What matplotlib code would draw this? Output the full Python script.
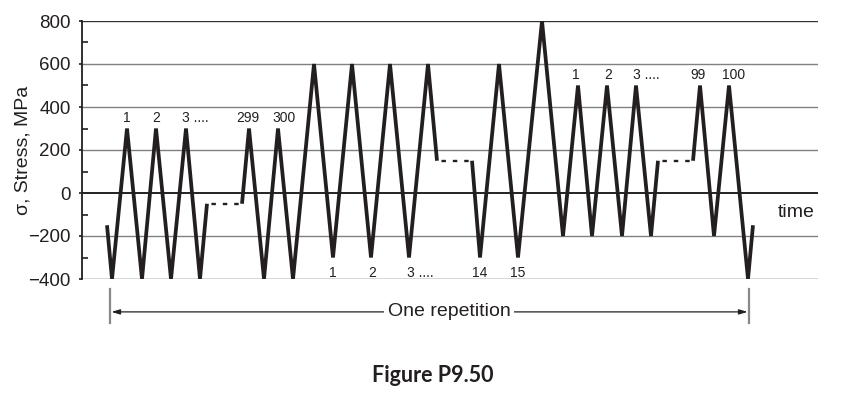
import numpy as np
import matplotlib
matplotlib.use("Agg")
import matplotlib.pyplot as plt

plt.rcParams['font.family'] = ['Liberation Sans', 'DejaVu Sans']
plt.rcParams['lines.scale_dashes'] = False

# stress history (time in arbitrary units, stress in MPa)
# solid runs of the loading history
t_runs = [
    [25, 30, 45, 60, 74, 89, 104, 118, 125],
    [160, 167, 182, 196, 211, 232, 251, 270, 289, 308, 327, 346, 355],
    [390, 398, 417, 436, 460, 481, 496, 510, 525, 540, 554, 569, 576],
    [611, 618, 632, 647, 666, 671],
]
s_runs = [
    [-150, -400, 300, -400, 300, -400, 300, -400, -50],
    [-50, 300, -400, 300, -400, 600, -300, 600, -300, 600, -300, 600, 150],
    [150, -300, 600, -300, 800, -200, 500, -200, 500, -200, 500, -200, 150],
    [150, 500, -200, 500, -400, -150],
]
# omitted cycles (dashed gaps)
gap_t = [(125, 160), (355, 390), (576, 611)]
gap_s = [-50, 150, 150]

# cycle-count labels: text, time, stress of the peak/valley, above(+1)/below(-1)
cycle_labels = [
    ("1", 45, 300, 1), ("2", 74, 300, 1), ("3 ....", 104, 300, 1),
    ("299", 166, 300, 1), ("300", 202, 300, 1),
    ("1", 251, -300, -1), ("2", 290, -300, -1), ("3 ....", 329, -300, -1),
    ("14", 398, -300, -1), ("15", 436, -300, -1),
    ("1", 494, 500, 1), ("2", 526, 500, 1), ("3 ....", 555, 500, 1),
    ("99", 616, 500, 1), ("100", 652, 500, 1),
]

rep_start, rep_end = 28, 667
y_ticks = [-400, -200, 0, 200, 400, 600, 800]

fig = plt.figure(figsize=(8.43, 4.03), dpi=100)
ax = fig.add_axes([82/843, 124/403, 736/843, 258/403])
ax.set_xlim(0, 736)
ax.set_ylim(-400, 800)

# horizontal reference lines
for y in y_ticks:
    if y == 0:
        ax.axhline(y, color='#111111', lw=1.3, zorder=1)
    elif y in (800, -400):
        ax.axhline(y, color='#333333', lw=1.0, zorder=1)
    else:
        ax.axhline(y, color='#808080', lw=1.0, zorder=1)

wave = '#231f20'
for t, s in zip(t_runs, s_runs):
    ax.plot(t, s, color=wave, lw=2.7, solid_joinstyle='miter',
            solid_capstyle='butt', zorder=3)
for (t0, t1), s in zip(gap_t, gap_s):
    ax.plot([t0, t1], [s, s], color=wave, lw=1.7, linestyle=(5, (3.2, 5)),
            dash_capstyle='butt', zorder=3)

for text, t, s, side in cycle_labels:
    dots = text.endswith('....')
    ax.annotate(text, (t, s), xytext=(-2.8 if dots else 0, 7.5 if side > 0 else -11),
                textcoords='offset points', ha='left' if dots else 'center',
                va='center', fontsize=10, color=wave)

ax.text(714, -93, 'time', ha='center', va='center', fontsize=14, color=wave)

# axis styling
for side in ('top', 'right', 'bottom'):
    ax.spines[side].set_visible(False)
ax.spines['left'].set_color(wave)
ax.spines['left'].set_linewidth(1.3)
ax.set_xticks([])
ax.set_yticks(y_ticks)
ax.set_yticks(np.arange(-300, 800, 200), minor=True)
ax.tick_params(axis='y', which='major', direction='out', length=2,
               width=1.2, pad=6, labelsize=13.5, colors=wave)
ax.tick_params(axis='y', which='minor', direction='in', length=4,
               width=1.2, colors=wave)
ax.set_ylabel('σ, Stress, MPa', fontsize=14, color=wave)
ax.yaxis.set_label_coords(-0.069, 0.5)

# "One repetition" bracket below the axes
for t in (rep_start, rep_end):
    ax.plot([t, t], [-446, -605], color='#888888', lw=1.6, clip_on=False)
ax.annotate('', xy=(rep_start, -553), xytext=(rep_end, -553),
            arrowprops=dict(arrowstyle='<|-|>,head_length=0.5,head_width=0.15',
                            color=wave, lw=0.9, shrinkA=1, shrinkB=1),
            annotation_clip=False)
ax.text(367, -553, 'One repetition', ha='center', va='center', fontsize=14,
        color=wave, clip_on=False,
        bbox=dict(facecolor='white', edgecolor='none', pad=3))

fig.text(433/843, 1 - 376/403, 'Figure P9.50', ha='center', va='center',
         fontsize=15.5, fontweight='bold', family='Lato', color=wave)

fig.savefig('out.png', dpi=100)
